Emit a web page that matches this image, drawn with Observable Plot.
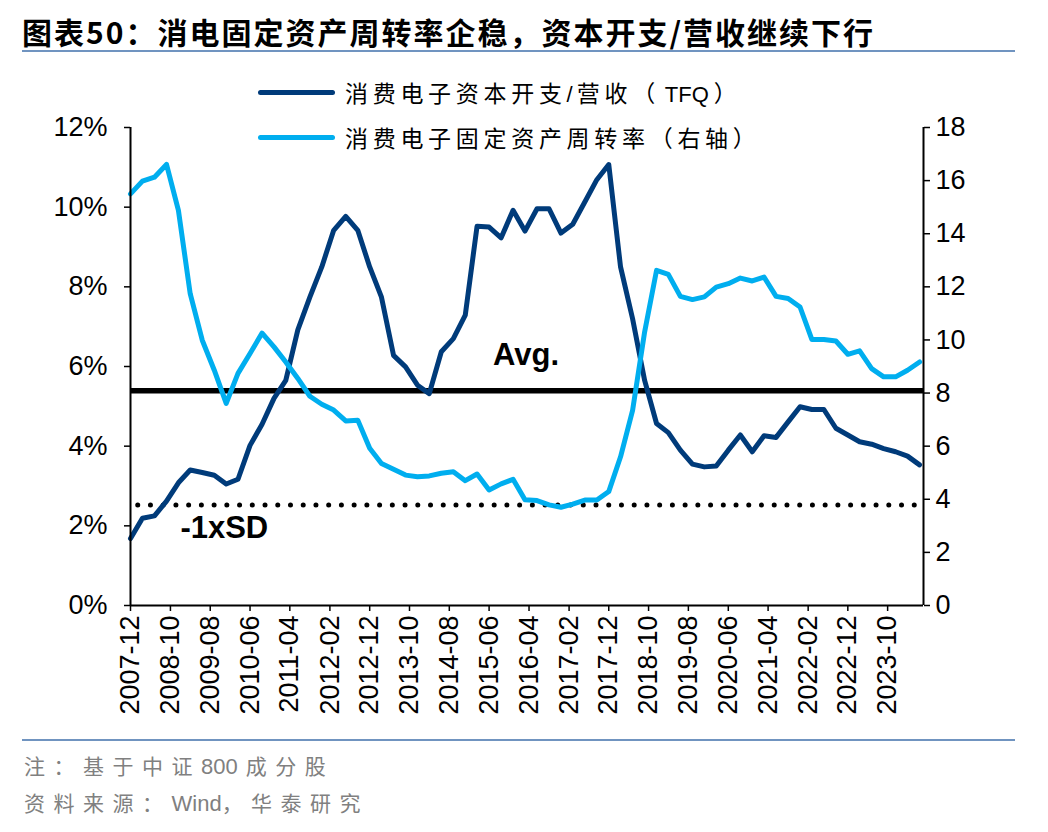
<!DOCTYPE html>
<html><head><meta charset="utf-8">
<script src="https://cdn.jsdelivr.net/npm/d3@7"></script>
<script src="https://cdn.jsdelivr.net/npm/@observablehq/plot@0.6"></script>
<style>
body{margin:0;background:#fff;width:1048px;height:832px;position:relative;overflow:hidden;font-family:"Liberation Sans",Arial,sans-serif}
#chart{position:absolute;left:0;top:0}
#title{position:absolute;left:22px;top:11px;font-weight:bold;font-size:30px;font-family:"Noto Sans CJK SC",sans-serif;letter-spacing:2px;color:#000;white-space:nowrap;line-height:40px}
.hr{position:absolute;left:22px;width:993px;height:2px;background:#7094C0}
.leg{position:absolute;left:258px;height:30px;display:flex;align-items:center;white-space:nowrap}
.sw{width:77px;height:5px;border-radius:3px;margin-right:10px}
.lt{font-family:"Noto Sans CJK SC",sans-serif;font-size:23px;letter-spacing:4.7px;color:#000}
.note{position:absolute;left:24px;font-family:"Noto Sans CJK SC",sans-serif;font-size:21px;letter-spacing:8.5px;color:#808080;white-space:nowrap;line-height:30px}
.lat{font-family:"Liberation Sans",Arial,sans-serif;letter-spacing:0;font-size:22px}
</style>
</head><body>
<div id="chart"></div>
<div id="title">图表50：消电固定资产周转率企稳，资本开支/营收继续下行</div>
<div class="hr" style="top:50px"></div>
<div class="leg" style="top:77px"><div class="sw" style="background:#003B7A"></div><span class="lt">消费电子资本开支<span class="lat" style="margin:0 4px 0 0">/</span>营收（<span class="lat" style="margin:0 5px">TFQ</span>）</span></div>
<div class="leg" style="top:122px"><div class="sw" style="background:#00AEEF"></div><span class="lt">消费电子固定资产周转率（右轴）</span></div>
<div class="hr" style="top:739px"></div>
<div class="note" style="top:750px">注：基于中证<span class="lat" style="margin:0 8px 0 0">800</span>成分股</div>
<div class="note" style="top:787px">资料来源：<span class="lat">Wind</span>，华泰研究</div>
<script>
const dates = [
"2007-12",
"2008-03","2008-06","2008-09","2008-12",
"2009-03","2009-06","2009-09","2009-12",
"2010-03","2010-06","2010-09","2010-12",
"2011-03","2011-06","2011-09","2011-12",
"2012-03","2012-06","2012-09","2012-12",
"2013-03","2013-06","2013-09","2013-12",
"2014-03","2014-06","2014-09","2014-12",
"2015-03","2015-06","2015-09","2015-12",
"2016-03","2016-06","2016-09","2016-12",
"2017-03","2017-06","2017-09","2017-12",
"2018-03","2018-06","2018-09","2018-12",
"2019-03","2019-06","2019-09","2019-12",
"2020-03","2020-06","2020-09","2020-12",
"2021-03","2021-06","2021-09","2021-12",
"2022-03","2022-06","2022-09","2022-12",
"2023-03","2023-06","2023-09","2023-12",
"2024-03","2024-06"
];
// 消费电子资本开支/营收（TFQ），%
const capexRatio = [
1.68,
2.19,2.25,2.62,3.08,
3.40,3.34,3.27,3.05,
3.17,4.02,4.55,5.20,
5.65,6.92,7.74,8.50,
9.42,9.77,9.42,8.50,
7.74,6.28,5.99,5.53,
5.32,6.37,6.70,7.29,
9.52,9.50,9.23,9.92,
9.40,9.96,9.96,9.35,
9.57,10.13,10.69,11.07,
8.50,7.20,5.65,4.57,
4.34,3.90,3.55,3.48,
3.50,3.90,4.28,3.86,
4.26,4.22,4.61,4.99,
4.92,4.92,4.45,4.28,
4.11,4.05,3.94,3.86,
3.75,3.53
];
// 消费电子固定资产周转率（右轴）
const turnover = [
15.50,
15.98,16.13,16.61,14.88,
11.74,9.99,8.86,7.61,
8.74,9.49,10.26,9.74,
9.17,8.55,7.88,7.58,
7.36,6.95,6.98,5.92,
5.35,5.13,4.91,4.85,
4.88,4.98,5.04,4.70,
4.95,4.35,4.58,4.75,
3.98,3.95,3.79,3.70,
3.82,3.97,3.97,4.29,
5.60,7.35,10.30,12.62,
12.47,11.64,11.52,11.62,
11.99,12.12,12.33,12.22,
12.37,11.64,11.56,11.24,
10.02,10.02,9.96,9.46,
9.59,8.92,8.61,8.61,
8.86,9.17
];
const avgValue = 5.39;
const sdValue = 2.52;
const xTickLabels = ["2007-12","2008-10","2009-08","2010-06","2011-04","2012-02","2012-12","2013-10","2014-08","2015-06","2016-04","2017-02","2017-12","2018-10","2019-08","2020-06","2021-04","2022-02","2022-12","2023-10"];
const leftTicks = [0,2,4,6,8,10,12];
const rightTicks = [0,2,4,6,8,10,12,14,16,18];
const annotations = [
  {date:"2015-07-01", y:avgValue, text:"Avg."},
  {date:"2008-12-16", y:sdValue, text:"-1xSD"}
];

const darkColor = "#003B7A", lightColor = "#00AEEF";
const k = 12/18;
const parse = d3.utcParse("%Y-%m");
const parseDay = d3.utcParse("%Y-%m-%d");
const data = dates.map((d,i)=>({date: parse(d), capex: capexRatio[i], turn: turnover[i]*k}));
const xDomain = [parse("2007-12"), parse("2024-07")];

const chart = Plot.plot({
  width:1048, height:735,
  marginTop:127, marginBottom:130, marginLeft:130, marginRight:125,
  style:{fontFamily:'"Liberation Sans", Arial, sans-serif', fontSize:"27px", color:"#000", background:"transparent", overflow:"visible"},
  x:{type:"utc", domain:xDomain},
  y:{domain:[0,12]},
  marks:[
    Plot.ruleY([avgValue], {stroke:"#000", strokeWidth:5.5}),
    Plot.ruleY([sdValue], {stroke:"#000", strokeWidth:5, strokeDasharray:"0,12.73", strokeLinecap:"round", strokeDashoffset:5}),
    Plot.lineY(data, {x:"date", y:"capex", stroke:darkColor, strokeWidth:5, strokeLinejoin:"round"}),
    Plot.lineY(data, {x:"date", y:"turn", stroke:lightColor, strokeWidth:5, strokeLinejoin:"round"}),
    Plot.text(annotations.slice(0,1), {x:d=>parseDay(d.date), y:"y", text:"text", textAnchor:"start", dy:-36, fontWeight:"bold", fontSize:31, fill:"#000"}),
    Plot.text(annotations.slice(1), {x:d=>parseDay(d.date), y:"y", text:"text", textAnchor:"start", dy:23, fontWeight:"bold", fontSize:31, fill:"#000"}),
    Plot.ruleX(xDomain, {stroke:"#000", strokeWidth:2}),
    Plot.ruleY([0], {stroke:"#000", strokeWidth:2}),
    Plot.axisY({anchor:"left", ticks:leftTicks, tickFormat:d=>d+"%", tickSize:6, tickPadding:17, strokeWidth:1.5, label:null}),
    Plot.axisY({anchor:"right", ticks:rightTicks.map(v=>v*k), tickFormat:d=>String(Math.round(d/k)), tickSize:6, tickPadding:6, strokeWidth:1.5, label:null}),
    Plot.axisX({ticks:xTickLabels.map(parse), tickFormat:d3.utcFormat("%Y-%m"), tickRotate:-90, tickSize:6, tickPadding:4, strokeWidth:1.5, label:null})
  ]
});
document.getElementById("chart").appendChild(chart);
</script>
</body></html>
